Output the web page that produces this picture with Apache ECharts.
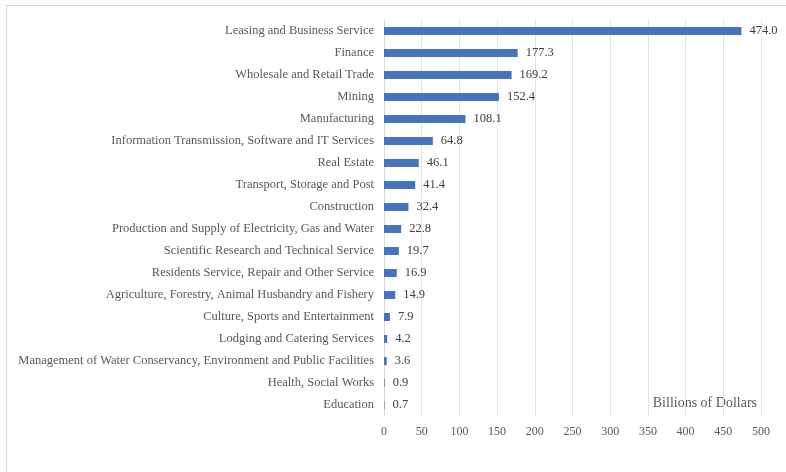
<!DOCTYPE html>
<html>
<head>
<meta charset="utf-8">
<script src="https://cdn.jsdelivr.net/npm/echarts@6/dist/echarts.min.js"></script>
<style>
  html, body { margin: 0; padding: 0; background: #fff; }
  #frame { position: absolute; left: 6px; top: 5px; width: 800px; height: 500px; border-left: 1px solid #d9d9d9; border-top: 1px solid #d9d9d9; }
  #chart { position: absolute; left: 0; top: 0; width: 786px; height: 472px; }
</style>
</head>
<body>
<div id="frame"></div>
<div id="chart"></div>
<script>
// Industries, listed bottom-to-top as the category axis draws them
const industries = [
  'Education',
  'Health, Social Works',
  'Management of Water Conservancy, Environment and Public Facilities',
  'Lodging and Catering Services',
  'Culture, Sports and Entertainment',
  'Agriculture, Forestry, Animal Husbandry and Fishery',
  'Residents Service, Repair and Other Service',
  'Scientific Research and Technical Service',
  'Production and Supply of Electricity, Gas and Water',
  'Construction',
  'Transport, Storage and Post',
  'Real Estate',
  'Information Transmission, Software and IT Services',
  'Manufacturing',
  'Mining',
  'Wholesale and Retail Trade',
  'Finance',
  'Leasing and Business Service'
];
// Investment stock, billions of dollars
const amounts = [0.7, 0.9, 3.6, 4.2, 7.9, 14.9, 16.9, 19.7, 22.8, 32.4, 41.4, 46.1, 64.8, 108.1, 152.4, 169.2, 177.3, 474.0];
const unitLabel = 'Billions of Dollars';

const serif = '"Liberation Serif", "DejaVu Serif", serif';
const chart = echarts.init(document.getElementById('chart'));
chart.setOption({
  animation: false,
  textStyle: { fontFamily: serif },
  grid: { left: 384, right: 25, top: 20, bottom: 56, containLabel: false },
  xAxis: {
    type: 'value',
    min: 0,
    max: 500,
    interval: 50,
    axisLine: { show: false },
    axisTick: { show: false },
    axisLabel: { color: '#595959', fontSize: 12, fontFamily: serif, margin: 10 },
    splitLine: { show: true, lineStyle: { color: '#e3e3e3', width: 1 } }
  },
  yAxis: {
    type: 'category',
    data: industries,
    axisLine: { show: true, lineStyle: { color: '#d9d9d9' } },
    axisTick: { show: false },
    axisLabel: { color: '#595959', fontSize: 12.5, fontFamily: serif, margin: 10 }
  },
  series: [{
    type: 'bar',
    data: amounts,
    barWidth: 8,
    itemStyle: { color: '#4673bd' },
    label: {
      show: true,
      position: 'right',
      distance: 8,
      color: '#404040',
      fontSize: 12.5,
      fontFamily: serif,
      formatter: p => p.value.toFixed(1)
    }
  }],
  graphic: [{
    type: 'text',
    right: 29,
    top: 396,
    style: { text: unitLabel, fill: '#595959', font: '14px ' + serif }
  }]
});
</script>
</body>
</html>
